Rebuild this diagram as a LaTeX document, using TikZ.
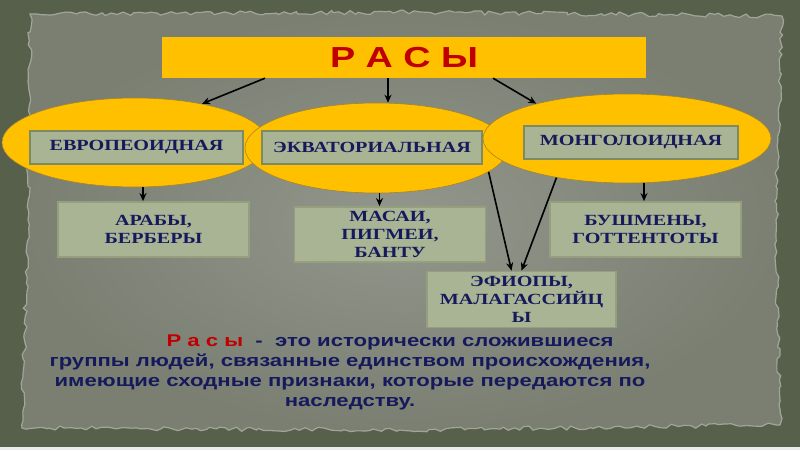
\documentclass[tikz,border=0pt]{standalone}
\usepackage{fontspec}
\setmainfont{Liberation Serif}
\newfontfamily\boxfont[FakeStretch=1.3]{Liberation Serif}
\newfontfamily\wordfont[FakeStretch=1.3]{Liberation Sans}
\usetikzlibrary{shapes.geometric, arrows.meta, backgrounds, decorations.pathmorphing}

\definecolor{outerbg}{HTML}{56604B}
\definecolor{paperin}{HTML}{92968C}
\definecolor{paperout}{HTML}{7A7F72}
\definecolor{paperrim}{HTML}{A2A69A}
\definecolor{raceyellow}{HTML}{FFC000}
\definecolor{ovalline}{HTML}{A8842A}
\definecolor{cellfill}{HTML}{A9B494}
\definecolor{cellline}{HTML}{7E8B62}
\definecolor{peopleline}{HTML}{939F7D}
\definecolor{inknavy}{HTML}{161A5C}
\definecolor{titlered}{HTML}{C00000}

\begin{document}
\pgfmathsetseed{11}
\begin{tikzpicture}[
  x=1pt, y=-1pt,
  every node/.style={align=center},
  %% ─── стили ────────────────────────────────────────────────
  titlebox/.style={
    fill=raceyellow, minimum width=484pt, minimum height=41pt, inner sep=0pt,
    text=titlered, font=\wordfont\bfseries\fontsize{29}{30}\selectfont
  },
  oval/.style={
    ellipse, draw=ovalline, fill=raceyellow, line width=0.6pt
  },
  racebox/.style={
    draw=cellline, fill=cellfill, line width=2.2pt, minimum height=33pt, inner sep=0pt,
    text=inknavy, font=\boxfont\bfseries\fontsize{15.5}{18}\selectfont
  },
  peoplebox/.style={
    racebox, draw=peopleline, line width=1.8pt, minimum width=191pt, minimum height=55pt
  },
  link/.style={-{Stealth[length=8pt, width=7pt]}, line width=1.6pt}
]
  \useasboundingbox (0,0) rectangle (800,450);

  %% ─── 1. Заголовок ─────────────────────────────────────────
  \node[titlebox] (title) at (404,57.5) {Р А С Ы};

  %% ─── 2. Три расы (овалы) ──────────────────────────────────
  \node[oval, minimum width=266pt, minimum height=89pt] (euro) at (135,142.5) {};
  \node[racebox, minimum width=213pt] (euroname) at (136.5,147.5) {ЕВРОПЕОИДНАЯ};
  \node[oval, minimum width=263pt, minimum height=90pt] (equa) at (376.5,148) {};
  \node[racebox, minimum width=220pt] (equaname) at (372,147.5) {ЭКВАТОРИАЛЬНАЯ};
  \node[oval, minimum width=288pt, minimum height=89pt] (mongo) at (627,138.5) {};
  \node[racebox, minimum width=214pt] (mongoname) at (631,142.5) {МОНГОЛОИДНАЯ};

  %% ─── 3. Народы ────────────────────────────────────────────
  \node[peoplebox] (arab) at (153.5,229.5) {АРАБЫ,\\БЕРБЕРЫ};
  \node[peoplebox] (masai) at (390,234.5) {МАСАИ,\\ПИГМЕИ,\\БАНТУ};
  \node[peoplebox] (bush) at (645.5,229.5) {БУШМЕНЫ,\\ГОТТЕНТОТЫ};
  \node[peoplebox, minimum width=189pt, minimum height=56pt] (ethi) at (521.5,299.5) {ЭФИОПЫ,\\МАЛАГАССИЙЦ\\Ы};

  % заголовок -> расы
  \draw[link] ([xshift=-139pt]title.south) -- (euro.30);
  \draw[link] ([xshift=-16pt]title.south) -- ([xshift=-16pt]title.south |- equa.north);
  \draw[link] ([xshift=89pt]title.south) -- (mongo.159);

  % расы -> народы
  \draw[link] ([xshift=8pt]euro.south) -- ([xshift=8pt]euro.south |- arab.north);
  \draw[link] ([xshift=3pt]equa.south) -- ([xshift=3pt]equa.south |- masai.north);
  \draw[link] ([xshift=17pt]mongo.south) -- ([xshift=17pt]mongo.south |- bush.north);
  \draw[link] (equa.-12) -- ([xshift=-10pt]ethi.north);
  \draw[link] (mongo.209) -- (ethi.north);

  %% ─── 4. Определение ───────────────────────────────────────
  \node[text=inknavy, inner sep=0pt, font=\wordfont\bfseries\fontsize{17}{20}\selectfont] (definition) at (350,372.5)
    {\hspace*{80pt}\textcolor{titlered}{Р а с ы}\ \ -\ \ это исторически сложившиеся\\
     группы людей, связанные единством происхождения,\\
     имеющие сходные признаки, которые передаются по\\
     наследству.};

  %% ─── 5. Фон (бумага) ──────────────────────────────────────
  \begin{scope}[on background layer]
    \fill[outerbg] (0,0) rectangle (800,450);
    \fill[white!85!gray] (0,447) rectangle (800,450);
    \shadedraw[inner color=paperin, outer color=paperout, draw=paperrim, line width=1.2pt,
      decorate, decoration={random steps, segment length=5pt, amplitude=2.2pt}]
      (30,14) -- (420,12) -- (782,16) -- (776,220) -- (780,425) -- (400,430) -- (22,428) -- (28,220) -- cycle;
  \end{scope}

\end{tikzpicture}
\end{document}
